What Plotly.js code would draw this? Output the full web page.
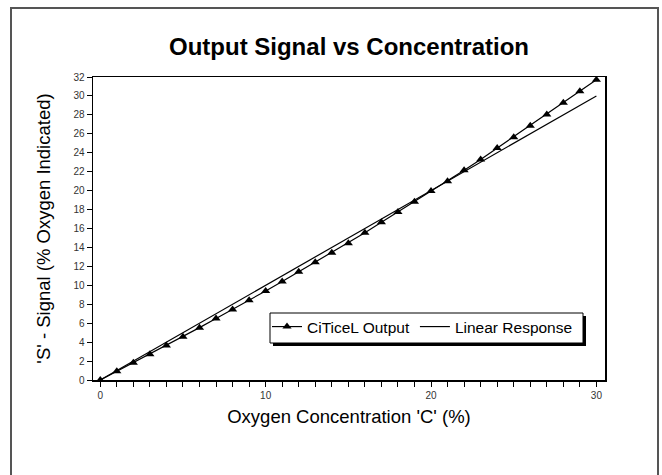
<!DOCTYPE html>
<html>
<head>
<meta charset="utf-8">
<script src="https://cdn.plot.ly/plotly-3.0.1.min.js"></script>
<style>
html,body{margin:0;padding:0;background:#fff;}
#chart{width:662px;height:475px;}
</style>
</head>
<body>
<div id="chart"></div>
<script>
const concentration = [0,1,2,3,4,5,6,7,8,9,10,11,12,13,14,15,16,17,18,19,20,21,22,23,24,25,26,27,28,29,30];
const citicelOutput = [0,0.92,1.82,2.73,3.65,4.58,5.53,6.5,7.45,8.42,9.4,10.4,11.42,12.43,13.45,14.45,15.55,16.65,17.75,18.83,19.95,21.0,22.15,23.3,24.5,25.65,26.85,28.05,29.28,30.5,31.7];
const linearX = [0,30];
const linearY = [0,30];
const xTickVals = [0,10,20,30];
const yTickVals = [0,2,4,6,8,10,12,14,16,18,20,22,24,26,28,30,32];

const L = 93, R = 605, T = 77, B = 380;
const pw = R - L, ph = B - T;
const px = v => (v - L) / pw;
const py = v => (B - v) / ph;

const traces = [
  {x: concentration, y: citicelOutput, name: 'CiTiceL Output', type: 'scatter', mode: 'lines+markers',
   line: {color: '#000', width: 1.2}, marker: {symbol: 'triangle-up', size: 8, color: '#000'}},
  {x: linearX, y: linearY, name: 'Linear Response', type: 'scatter', mode: 'lines',
   line: {color: '#000', width: 1.2}}
];

const layout = {
  width: 662, height: 475,
  margin: {l: L, r: 662 - R, t: T, b: 475 - B, pad: 0},
  paper_bgcolor: '#fff', plot_bgcolor: '#fff',
  font: {family: 'Liberation Sans, Arial, sans-serif', color: '#000'},
  title: {text: '<b>Output Signal vs Concentration</b>', font: {size: 24, color: '#000'},
          x: 0.5, xref: 'paper', y: 1 - 47 / 475, yref: 'container', yanchor: 'middle'},
  showlegend: true,
  legend: {orientation: 'h', x: px(267), y: py(310), xanchor: 'left', yanchor: 'top',
           borderwidth: 0, bgcolor: 'rgba(0,0,0,0)', itemwidth: 30,
           font: {size: 15.5, color: '#000'}},
  xaxis: {range: [-0.44, 30.52], tickvals: xTickVals, ticks: 'outside', ticklen: 5, tickcolor: '#000',
          minor: {dtick: 1, ticks: 'outside', ticklen: 5, tickcolor: '#000'},
          showline: true, linecolor: '#000', linewidth: 1.5, mirror: true, showgrid: false, zeroline: false,
          tickfont: {family: 'Liberation Sans Narrow, Liberation Sans, sans-serif', size: 10, color: '#333'},
          title: {text: "Oxygen Concentration 'C' (%)", font: {size: 18.5, color: '#000'}, standoff: 10}},
  yaxis: {range: [0, 32], tickvals: yTickVals, ticks: 'outside', ticklen: 5, tickcolor: '#000',
          showline: true, linecolor: '#000', linewidth: 1.5, mirror: true, showgrid: false, zeroline: false,
          tickfont: {family: 'Liberation Sans Narrow, Liberation Sans, sans-serif', size: 10, color: '#333'},
          title: {text: "'S' - Signal (% Oxygen Indicated)", font: {size: 18.5, color: '#000'}, standoff: 18}},
  shapes: [
    {type: 'rect', xref: 'paper', yref: 'paper', x0: px(11), x1: px(658), y0: py(8), y1: py(520),
     line: {color: '#555', width: 2}, layer: 'below'},
    {type: 'rect', xref: 'paper', yref: 'paper', x0: px(273), x1: px(586), y0: py(316), y1: py(346),
     line: {width: 0}, fillcolor: '#000', layer: 'above'},
    {type: 'rect', xref: 'paper', yref: 'paper', x0: px(270), x1: px(583), y0: py(313), y1: py(343),
     line: {width: 1, color: '#000'}, fillcolor: '#fff', layer: 'above'}
  ]
};

Plotly.newPlot('chart', traces, layout, {displayModeBar: false, staticPlot: true});
</script>
</body>
</html>
